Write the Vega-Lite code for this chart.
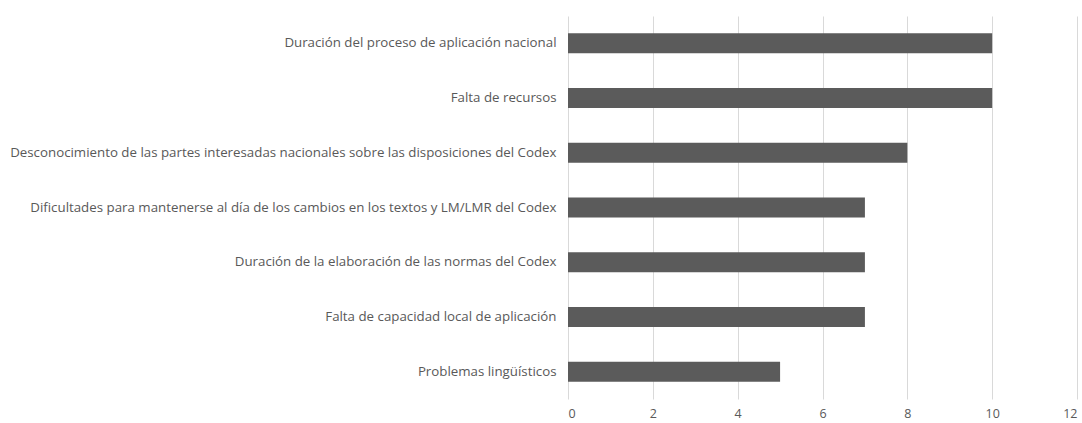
{
  "$schema": "https://vega.github.io/schema/vega-lite/v6.json",
  "autosize": {"type": "none"},
  "padding": {"left": 568, "top": 16, "right": 5, "bottom": 24},
  "width": 509,
  "height": 383,
  "background": "white",
  "data": {
    "values": [
      {"cat": "Duración del proceso de aplicación nacional", "v": 10},
      {"cat": "Falta de recursos", "v": 10},
      {"cat": "Desconocimiento de las partes interesadas nacionales sobre las disposiciones del Codex", "v": 8},
      {"cat": "Dificultades para mantenerse al día de los cambios en los textos y LM/LMR del Codex", "v": 7},
      {"cat": "Duración de la elaboración de las normas del Codex", "v": 7},
      {"cat": "Falta de capacidad local de aplicación", "v": 7},
      {"cat": "Problemas lingüísticos", "v": 5}
    ]
  },
  "mark": {"type": "bar", "color": "#5b5b5b"},
  "encoding": {
    "y": {
      "field": "cat", "type": "nominal", "sort": null,
      "scale": {"paddingInner": 0.635, "paddingOuter": 0.3175},
      "axis": {"title": null, "ticks": false, "domain": false, "grid": false, "labelPadding": 12, "labelFont": "Open Sans", "labelFontSize": 13.3, "labelColor": "#595959", "labelLimit": 600}
    },
    "x": {
      "field": "v", "type": "quantitative",
      "scale": {"domain": [0, 12], "nice": false},
      "axis": {"title": null, "values": [0, 2, 4, 6, 8, 10, 12], "ticks": false, "domain": false, "grid": true, "gridColor": "#d9d9d9", "labelPadding": 8, "labelFont": "Open Sans", "labelFontSize": 12.5, "labelColor": "#595959"}
    }
  },
  "config": {"view": {"stroke": null}}
}
